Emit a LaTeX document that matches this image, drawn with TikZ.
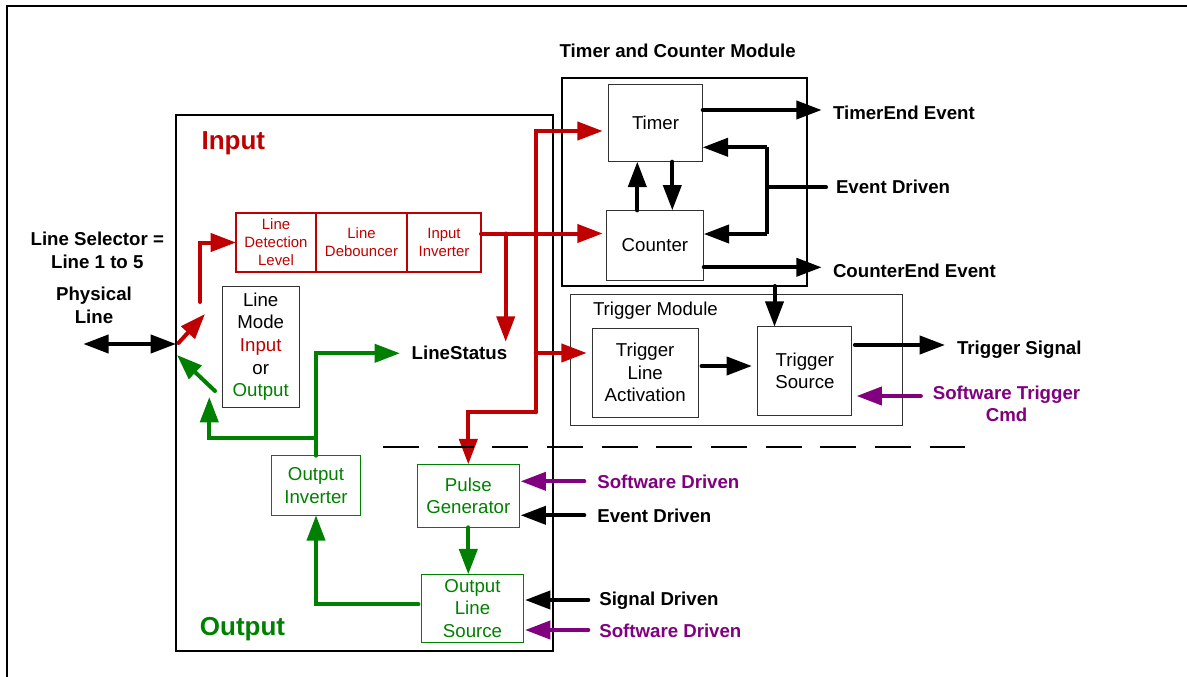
\documentclass[tikz,border=0pt]{standalone}
\usepackage{fontspec}
\setmainfont{Liberation Sans}
\usetikzlibrary{arrows.meta}
\definecolor{myred}{RGB}{192,0,0}
\definecolor{mygreen}{RGB}{0,128,0}
\definecolor{mypurple}{RGB}{128,0,128}
\definecolor{boxgray}{RGB}{50,50,50}
\begin{document}
\begin{tikzpicture}[x=0.75pt,y=-0.75pt,
  every node/.style={inner sep=0pt, outer sep=0pt},
  sz/.style 2 args={minimum width=#1*0.75pt, minimum height=#2*0.75pt},
  regtxt/.style={font=\fontsize{14pt}{16.9pt}\selectfont},
  smalltxt/.style={font=\fontsize{11.2pt}{13.5pt}\selectfont},
  lbl/.style={font=\fontsize{14pt}{16.9pt}\selectfont\bfseries},
  bigtxt/.style={font=\fontsize{19.5pt}{23pt}\selectfont\bfseries},
  plainbox/.style={draw=boxgray, line width=0.8pt, rectangle, align=center, regtxt},
  redbox/.style={draw=myred, text=myred, line width=0.8pt, rectangle, align=center, smalltxt},
  greenbox/.style={draw=mygreen, text=mygreen, line width=0.8pt, rectangle, align=center, regtxt},
  tip/.tip={Triangle[length=19pt,width=13.5pt]},
  thk/.style={line width=3pt, line cap=round},
  barr/.style={thk, draw=black, -tip},
  rarr/.style={thk, draw=myred, -tip},
  garr/.style={thk, draw=mygreen, -tip},
  parr/.style={thk, draw=mypurple, -tip},
]
\useasboundingbox (0,0) rectangle (1187,677);
% outer frame
\draw[line width=1.7pt] (7,677) -- (7,6) -- (1187,6);

% main input/output box
\node[draw=black, line width=0.8pt, sz={377}{536}] (main) at (364.5,383) {};
\node[bigtxt, text=myred, anchor=base] (inlbl) at (233.3,149.3) {Input};
\node[bigtxt, text=mygreen, anchor=base] (outlbl) at (242.5,635) {Output};

% timer and counter module
\node[draw=black, line width=2pt, sz={245}{208}] (tcm) at (684.5,182) {};
\node[lbl] (tcmtitle) at (677.7,50.7) {Timer and Counter Module};
\node[plainbox, sz={94.4}{77.4}] (timer) at (655.5,123) {Timer};
\node[plainbox, sz={97.7}{69.7}] (counter) at (654.9,245.2) {Counter};

% trigger module
\node[draw=boxgray, line width=0.8pt, sz={332}{131}] (trigmod) at (736.5,360.2) {};
\node[regtxt, anchor=west] (tmlabel) at (593,311) {Trigger Module};
\node[plainbox, sz={106.3}{88.7}] (tla) at (645.2,372.7) {Trigger\\Line\\Activation};
\node[plainbox, sz={94}{88.6}] (ts) at (804.9,371) {Trigger\\Source};

% input chain
\node[redbox, sz={80}{59}] (ldl) at (276,242.5) {Line\\Detection\\Level};
\node[redbox, sz={91}{59}] (ldb) at (361.5,242.5) {Line\\Debouncer};
\node[redbox, sz={74}{59}] (inv) at (444,242.5) {Input\\Inverter};

% line mode
\node[plainbox, sz={76.7}{121.3}] (lm) at (260.7,346.7)
  {Line\\Mode\\\textcolor{myred}{Input}\\or\\\textcolor{mygreen}{Output}};

% output chain
\node[greenbox, sz={88.6}{59.6}] (oinv) at (316,485.5) {Output\\Inverter};
\node[greenbox, sz={102}{63}] (pg) at (468.3,495.8) {Pulse\\Generator};
\node[greenbox, sz={101.6}{68.4}] (ols) at (472.5,608.5) {Output\\Line\\Source};

% labels
\node[lbl, align=center] (linesel) at (97.3,250.5) {Line Selector =\\Line 1 to 5};
\node[lbl, align=center] (phys) at (94,305.5) {Physical\\Line};
\node[lbl, anchor=west] (te) at (833,113) {TimerEnd Event};
\node[lbl, anchor=west] (ed1) at (836,187.3) {Event Driven};
\node[lbl, anchor=west] (ce) at (833,270.7) {CounterEnd Event};
\node[lbl, anchor=west] (tsig) at (957,349.3) {Trigger Signal};
\node[lbl, text=mypurple, align=center] (stc) at (1006.5,404) {Software Trigger\\Cmd};
\node[lbl, anchor=west] (ls) at (411.7,353.3) {LineStatus};
\node[lbl, text=mypurple, anchor=west] (sd1) at (597.3,482.3) {Software Driven};
\node[lbl, anchor=west] (ed2) at (597.3,516) {Event Driven};
\node[lbl, anchor=west] (sig) at (599.3,601) {Signal Driven};
\node[lbl, text=mypurple, anchor=west] (sd2) at (599.3,631) {Software Driven};

% coordinates
\coordinate (plleft) at (83.3,344);
\coordinate (rd1) at (178.5,343);
\coordinate (rd2) at (205,314);
\coordinate (r0) at (200,302);
\coordinate (gd1) at (215,391);
\coordinate (gd2) at (177,355);
\coordinate (lsin) at (400,353.3);
\coordinate (gj) at (316,437.7);
\coordinate (gt) at (209.3,397);
\coordinate (redy) at (482.7,233.5);
\coordinate (rb) at (505.7,233.5);
\coordinate (rbt) at (505.7,341.7);
\coordinate (rv) at (535.7,412.3);
\coordinate (rvtop) at (535.7,131);
\coordinate (rtla) at (535.7,353);
\coordinate (yte) at (800,110);
\coordinate (yce) at (800,267.3);
\coordinate (edj) at (767,187.3);
\coordinate (edt) at (767,147.3);
\coordinate (edb) at (767,234);
\coordinate (xu) at (637.3,190);
\coordinate (xd) at (672.3,190);
\coordinate (xts) at (774.5,300);
\coordinate (ytl) at (700,366);
\coordinate (ytsig) at (900,345);
\coordinate (ystc) at (900,396);
\coordinate (ysd1) at (560,481.3);
\coordinate (yed2) at (560,515.3);
\coordinate (ysig) at (560,600);
\coordinate (ysd2) at (560,630);
\coordinate (dash1) at (383,447.3);
\coordinate (dash2) at (965,447.3);

% physical line
\draw[thk, line cap=butt, tip-tip] (plleft) -- (main.west |- plleft);

% input side
\draw[rarr] (rd1) -- (rd2);
\draw[rarr] (r0) |- (ldl.west);
\draw[rarr] (inv.east |- redy) -- ([xshift=-2.5pt]counter.west |- redy);
\draw[rarr] (rb) -- (rbt);
\draw[rarr] (rv) -- (rvtop) -- ([xshift=-4.2pt]timer.west |- rvtop);
\draw[rarr] (rv) -| (pg.north);
\draw[rarr] (rtla) -- ([xshift=-4pt]tla.west |- rtla);

% output side
\draw[garr] (gd1) -- (gd2);
\draw[garr] (oinv.north) |- (lsin);
\draw[garr] (gj) -| (gt);
\draw[garr] ([xshift=-2.5pt,yshift=3.15pt]ols.west) -| (oinv.south);
\draw[garr] (pg.south) -- (pg.south |- ols.north);

% timer / counter
\draw[barr] (timer.east |- yte) -- ([xshift=-8.5pt]te.west |- yte);
\draw[barr] (counter.east |- yce) -- ([xshift=-8.5pt]ce.west |- yce);
\draw[thk] ([xshift=-7.5pt]ed1.west) -- (edj);
\draw[thk, line cap=butt] (edt) -- (edb);
\draw[barr, line cap=butt] (edt) -- (timer.east |- edt);
\draw[barr, line cap=butt] (edb) -- (counter.east |- edb);
\draw[barr] (counter.north -| xu) -- (timer.south -| xu);
\draw[barr] (timer.south -| xd) -- (counter.north -| xd);

% trigger
\draw[barr] (tcm.south -| xts) -- (ts.north -| xts);
\draw[barr] ([xshift=2.4pt]tla.east |- ytl) -- ([xshift=-4.5pt]ts.west |- ytl);
\draw[barr] ([xshift=2.2pt]ts.east |- ytsig) -- ([xshift=-9pt]tsig.west |- ytsig);
\draw[parr] ([xshift=-9pt]stc.west |- ystc) -- ([xshift=3.5pt]ts.east |- ystc);

% pulse generator / output line source inputs
\draw[parr] ([xshift=-9.75pt]sd1.west |- ysd1) -- ([xshift=1pt]pg.east |- ysd1);
\draw[barr] ([xshift=-9.75pt]ed2.west |- yed2) -- ([xshift=1pt]pg.east |- yed2);
\draw[barr] ([xshift=-8.25pt]sig.west |- ysig) -- ([xshift=1.3pt]ols.east |- ysig);
\draw[parr] ([xshift=-8.25pt]sd2.west |- ysd2) -- ([xshift=1.3pt]ols.east |- ysd2);

% dashed separator
\draw[line width=1.5pt, dash pattern=on 27pt off 14pt] (dash1) -- (dash2);
\end{tikzpicture}
\end{document}
